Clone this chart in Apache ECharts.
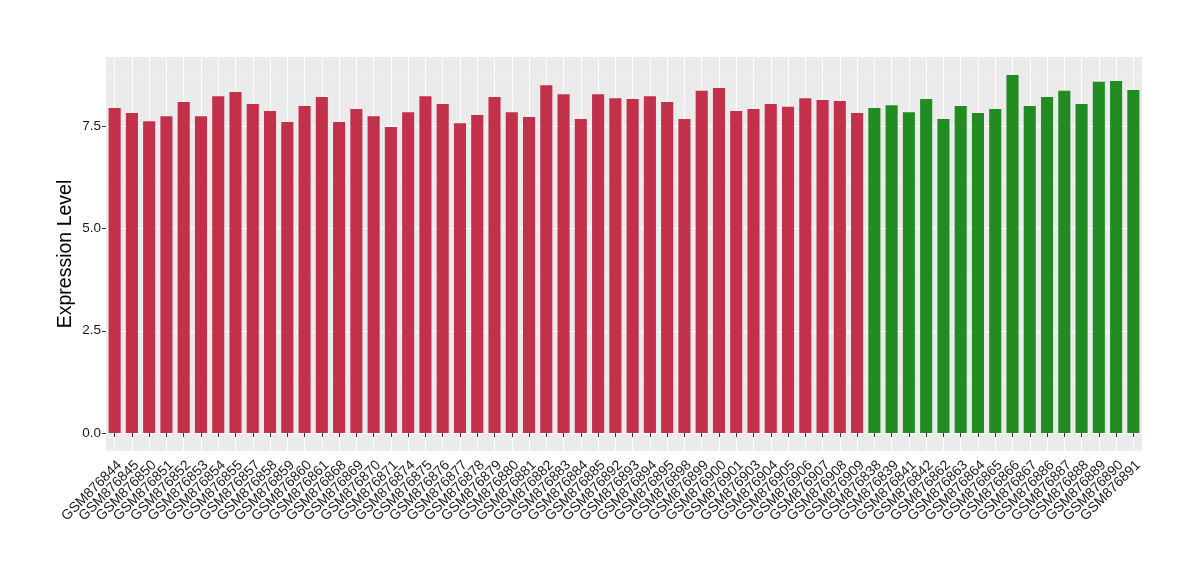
<!DOCTYPE html>
<html><head><meta charset="utf-8">
<script src="https://cdn.jsdelivr.net/npm/echarts@6/dist/echarts.min.js"></script>
<style>html,body{margin:0;padding:0;background:#fff}#c{width:1200px;height:580px}</style>
</head><body><div id="c"></div>
<script>
const redSamples = ["GSM876844","GSM876845","GSM876850","GSM876851","GSM876852","GSM876853","GSM876854","GSM876855","GSM876857","GSM876858","GSM876859","GSM876860","GSM876861","GSM876868","GSM876869","GSM876870","GSM876871","GSM876874","GSM876875","GSM876876","GSM876877","GSM876878","GSM876879","GSM876880","GSM876881","GSM876882","GSM876883","GSM876884","GSM876885","GSM876892","GSM876893","GSM876894","GSM876895","GSM876898","GSM876899","GSM876900","GSM876901","GSM876903","GSM876904","GSM876905","GSM876906","GSM876907","GSM876908","GSM876909"];
const redValues = [7.94,7.82,7.62,7.74,8.09,7.74,8.23,8.33,8.04,7.87,7.60,7.99,8.21,7.60,7.92,7.74,7.48,7.84,8.23,8.04,7.57,7.77,8.21,7.84,7.72,8.50,8.28,7.67,8.28,8.18,8.16,8.23,8.09,7.67,8.36,8.43,7.87,7.92,8.04,7.97,8.18,8.14,8.11,7.82];
const greenSamples = ["GSM876838","GSM876839","GSM876841","GSM876842","GSM876862","GSM876863","GSM876864","GSM876865","GSM876866","GSM876867","GSM876886","GSM876887","GSM876888","GSM876889","GSM876890","GSM876891"];
const greenValues = [7.94,8.01,7.84,8.16,7.67,7.99,7.82,7.92,8.75,7.99,8.21,8.36,8.04,8.58,8.60,8.38];
const yTicks = [0, 2.5, 5, 7.5];
const yMinorLines = [1.25, 3.75, 6.25, 8.75];
const redColor = "#C3304A", greenColor = "#228B22";

const categories = redSamples.concat(greenSamples);
const barData = redValues.map(v => ({value: v, itemStyle: {color: redColor}}))
  .concat(greenValues.map(v => ({value: v, itemStyle: {color: greenColor}})));
const allVals = redValues.concat(greenValues);
const vmax = Math.max(...allVals);
const pad = vmax * 0.05;

const chart = echarts.init(document.getElementById('c'), null, {renderer: 'canvas'});
chart.setOption({
  animation: false,
  backgroundColor: '#fff',
  textStyle: {fontFamily: 'Liberation Sans, Arial, sans-serif'},
  grid: {left: 106, right: 58, top: 57, bottom: 129, show: true, backgroundColor: '#EBEBEB', borderWidth: 0},
  xAxis: {
    type: 'category', data: categories,
    axisLine: {show: false},
    axisTick: {show: true, alignWithLabel: true, length: 4, lineStyle: {color: '#333', width: 1}},
    splitLine: {show: true, alignWithLabel: true, lineStyle: {color: '#fff', width: 1.1}},
    axisLabel: {rotate: 45, interval: 0, fontSize: 14, color: '#1a1a1a', margin: 7, verticalAlign: 'top'}
  },
  yAxis: {
    type: 'value', min: -pad, max: vmax + pad,
    name: 'Expression Level', nameLocation: 'middle', nameGap: 30, nameMoveOverlap: false,
    nameTextStyle: {fontSize: 19.5, color: '#000'},
    axisLine: {show: false},
    axisTick: {show: true, length: 4, customValues: yTicks, lineStyle: {color: '#333'}},
    axisLabel: {fontSize: 13.5, color: '#1a1a1a', margin: 5, customValues: yTicks,
      formatter: v => v.toFixed(1)},
    splitLine: {show: true, lineStyle: {color: '#fff', width: 1.1}}
  },
  series: [
    {type: 'line', data: [], z: 1, silent: true,
     markLine: {silent: true, symbol: 'none', label: {show: false}, z: 1,
       lineStyle: {color: '#F5F5F5', width: 0.6, type: 'solid'},
       data: yMinorLines.map(v => ({yAxis: v}))}},
    {type: 'bar', data: barData, barCategoryGap: '30%', z: 3}
  ]
});
</script></body></html>
